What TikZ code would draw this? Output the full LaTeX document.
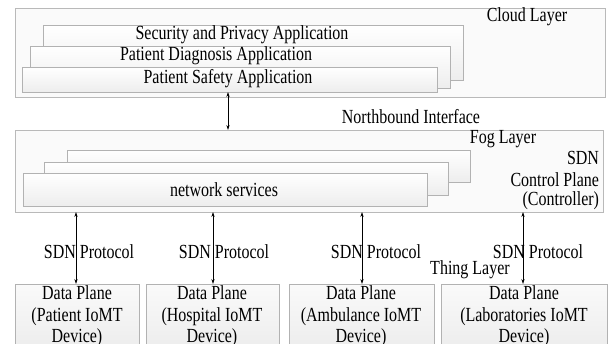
\documentclass[tikz,border=0pt]{standalone}
\usepackage{fontspec}
\usepackage{graphicx}
\setmainfont{Liberation Serif}
\usetikzlibrary{arrows.meta,shadows,calc}
\newcommand{\tl}[1]{\scalebox{1}[1.25]{#1}}
\begin{document}
\begin{tikzpicture}[x=1pt,y=-1pt,
  every node/.style={inner sep=0pt,outer sep=0pt},
  layerbox/.style={draw=gray!55,fill=gray!4,anchor=north west,line width=0.6pt},
  appbox/.style={draw=gray!60,top color=white,bottom color=gray!14,anchor=north west,line width=0.6pt,
    drop shadow={shadow xshift=1.2pt,shadow yshift=-1.2pt,opacity=0.25}},
  devbox/.style={draw=gray!60,top color=gray!4,bottom color=gray!16,anchor=north west,line width=0.6pt},
  txt/.style={font=\fontsize{16}{21.5}\selectfont,align=center},
  link/.style={{Stealth[length=5pt,width=3.2pt]}-{Stealth[length=5pt,width=3.2pt]},line width=0.6pt}
]
\useasboundingbox (0,0) rectangle (612,343);
\clip (0,0) rectangle (612,343);
\fill[white] (0,0) rectangle (612,343);
% cloud layer
\node[layerbox,minimum width=590pt,minimum height=89pt] (cloud) at (15,8) {};
\node[appbox,minimum width=420pt,minimum height=55pt] (sec) at (43,25) {};
\node[appbox,minimum width=420pt,minimum height=42pt] (diag) at (30,46) {};
\node[appbox,minimum width=415pt,minimum height=25pt] (safe) at (22,67) {};
\node[txt] (sect) at (242,35) {\tl{Security and Privacy Application}};
\node[txt] (diagt) at (216,56) {\tl{Patient Diagnosis Application}};
\node[txt] (safet) at (228,79) {\tl{Patient Safety Application}};
\node[txt] (cloudt) at (527,17) {\tl{Cloud Layer}};
% fog layer
\node[layerbox,minimum width=588pt,minimum height=82pt] (fog) at (15,130) {};
\node[appbox,minimum width=403pt,minimum height=32pt] (back) at (67,150) {};
\node[appbox,minimum width=404pt,minimum height=33pt] (mid) at (44,162) {};
\node[appbox,minimum width=404pt,minimum height=33pt] (front) at (23,173) {};
\node[txt] (nst) at (224,190) {\tl{network services}};
\node[txt] (nbi) at (411,117) {\tl{Northbound Interface}};
\node[txt] (fogt) at (503,139) {\tl{Fog Layer}};
\node[txt,anchor=east] (sdn1) at (599,158) {\tl{SDN}};
\node[txt,anchor=east] (sdn2) at (599,180) {\tl{Control Plane}};
\node[txt,anchor=east] (sdn3) at (599,201) {\tl{(Controller)}};
% arrow cloud-fog
\coordinate (xa) at (228,0);
\draw[link] (safe.south -| xa) -- (fog.north -| xa);
% devices
\node[devbox,minimum width=124pt,minimum height=75pt] (d1) at (15,284) {};
\node[devbox,minimum width=133pt,minimum height=75pt] (d2) at (146,284) {};
\node[devbox,minimum width=145pt,minimum height=75pt] (d3) at (289,284) {};
\node[devbox,minimum width=166pt,minimum height=75pt] (d4) at (441,284) {};
\node[txt,anchor=north] (d1t) at (77,286) {\tl{Data Plane}\\\tl{(Patient IoMT}\\\tl{Device)}};
\node[txt,anchor=north] (d2t) at (212,286) {\tl{Data Plane}\\\tl{(Hospital IoMT}\\\tl{Device)}};
\node[txt,anchor=north] (d3t) at (361,286) {\tl{Data Plane}\\\tl{(Ambulance IoMT}\\\tl{Device)}};
\node[txt,anchor=north] (d4t) at (524,286) {\tl{Data Plane}\\\tl{(Laboratories IoMT}\\\tl{Device)}};
% links
\coordinate (x1) at (76,0);
\coordinate (x2) at (213,0);
\coordinate (x3) at (362,0);
\coordinate (x4) at (523,0);
\draw[link] (fog.south -| x1) -- (d1.north -| x1);
\draw[link] (fog.south -| x2) -- (d2.north -| x2);
\draw[link] (fog.south -| x3) -- (d3.north -| x3);
\draw[link] (fog.south -| x4) -- (d4.north -| x4);
\node[txt] (p1) at (89,252) {\tl{SDN Protocol}};
\node[txt] (p2) at (224,252) {\tl{SDN Protocol}};
\node[txt] (p3) at (376,252) {\tl{SDN Protocol}};
\node[txt] (p4) at (538,252) {\tl{SDN Protocol}};
\node[txt] (thing) at (470,270) {\tl{Thing Layer}};
\end{tikzpicture}
\end{document}
